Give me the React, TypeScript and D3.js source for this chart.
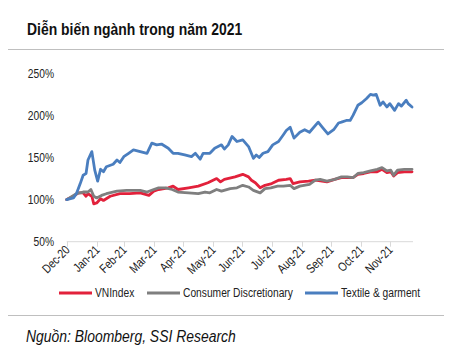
import React from 'react';
import * as d3 from 'd3';

// values (% of 31-Dec-2020 level)
const vnIndex: [string, number][] = [
  ['2020-12-31', 100], ['2021-01-07', 104], ['2021-01-12', 108], ['2021-01-17', 108],
  ['2021-01-20', 104], ['2021-01-22', 107], ['2021-01-26', 104], ['2021-01-28', 95],
  ['2021-01-31', 96], ['2021-02-04', 101], ['2021-02-07', 99], ['2021-02-14', 104],
  ['2021-02-24', 107], ['2021-03-06', 107], ['2021-03-17', 108], ['2021-03-26', 105],
  ['2021-03-31', 110], ['2021-04-05', 112], ['2021-04-15', 114], ['2021-04-20', 116],
  ['2021-04-25', 112], ['2021-05-06', 114], ['2021-05-16', 116], ['2021-05-26', 120],
  ['2021-06-04', 125], ['2021-06-08', 121], ['2021-06-12', 124], ['2021-06-23', 127],
  ['2021-07-01', 130], ['2021-07-07', 127], ['2021-07-10', 123], ['2021-07-14', 120],
  ['2021-07-19', 114], ['2021-07-24', 117], ['2021-07-31', 119], ['2021-08-07', 123],
  ['2021-08-15', 124], ['2021-08-19', 125], ['2021-08-22', 119], ['2021-08-29', 121],
  ['2021-09-07', 122], ['2021-09-14', 123], ['2021-09-26', 121], ['2021-10-04', 124],
  ['2021-10-11', 126], ['2021-10-23', 126], ['2021-10-28', 130], ['2021-11-03', 131],
  ['2021-11-10', 133], ['2021-11-17', 133], ['2021-11-22', 136], ['2021-11-27', 132],
  ['2021-12-01', 133], ['2021-12-04', 128], ['2021-12-08', 132], ['2021-12-15', 133],
  ['2021-12-23', 133],
];

const consumerDisc: [string, number][] = [
  ['2020-12-31', 100], ['2021-01-10', 107], ['2021-01-17', 109], ['2021-01-22', 109],
  ['2021-01-25', 112], ['2021-01-28', 104], ['2021-01-31', 102], ['2021-02-05', 105],
  ['2021-02-10', 107], ['2021-02-21', 110], ['2021-03-03', 111], ['2021-03-17', 111],
  ['2021-03-24', 109], ['2021-03-31', 112], ['2021-04-05', 114], ['2021-04-12', 114],
  ['2021-04-19', 112], ['2021-04-25', 109], ['2021-05-06', 108], ['2021-05-16', 107],
  ['2021-05-23', 109], ['2021-05-28', 108], ['2021-06-04', 112], ['2021-06-09', 110],
  ['2021-06-18', 113], ['2021-06-25', 114], ['2021-07-01', 117], ['2021-07-07', 115],
  ['2021-07-12', 111], ['2021-07-19', 108], ['2021-07-24', 113], ['2021-07-30', 114],
  ['2021-08-06', 116], ['2021-08-12', 116], ['2021-08-19', 117], ['2021-08-23', 113],
  ['2021-08-29', 116], ['2021-09-08', 118], ['2021-09-14', 123], ['2021-09-19', 124],
  ['2021-09-26', 122], ['2021-10-04', 124], ['2021-10-11', 127], ['2021-10-17', 127],
  ['2021-10-23', 126], ['2021-10-28', 131], ['2021-11-03', 132], ['2021-11-10', 134],
  ['2021-11-17', 136], ['2021-11-22', 138], ['2021-11-27', 134], ['2021-12-01', 135],
  ['2021-12-04', 129], ['2021-12-08', 135], ['2021-12-15', 136], ['2021-12-23', 136],
];

const textile: [string, number][] = [
  ['2020-12-31', 100], ['2021-01-07', 102], ['2021-01-10', 107], ['2021-01-14', 119],
  ['2021-01-17', 129], ['2021-01-20', 131], ['2021-01-22', 147], ['2021-01-26', 157],
  ['2021-01-29', 135], ['2021-02-01', 122], ['2021-02-04', 136], ['2021-02-07', 133],
  ['2021-02-10', 139], ['2021-02-17', 142], ['2021-02-21', 147], ['2021-02-24', 144],
  ['2021-02-28', 151], ['2021-03-05', 155], ['2021-03-10', 159], ['2021-03-17', 157],
  ['2021-03-24', 155], ['2021-03-29', 167], ['2021-04-03', 165], ['2021-04-08', 166],
  ['2021-04-15', 161], ['2021-04-20', 155], ['2021-04-25', 155], ['2021-05-02', 153],
  ['2021-05-09', 151], ['2021-05-13', 155], ['2021-05-18', 148], ['2021-05-21', 155],
  ['2021-05-28', 155], ['2021-06-02', 161], ['2021-06-09', 165], ['2021-06-12', 160],
  ['2021-06-16', 165], ['2021-06-20', 175], ['2021-06-25', 169], ['2021-07-01', 171],
  ['2021-07-07', 163], ['2021-07-12', 149], ['2021-07-15', 153], ['2021-07-18', 150],
  ['2021-07-22', 155], ['2021-07-27', 157], ['2021-08-01', 165], ['2021-08-07', 169],
  ['2021-08-12', 177], ['2021-08-15', 182], ['2021-08-19', 186], ['2021-08-23', 173],
  ['2021-08-29', 180], ['2021-09-03', 183], ['2021-09-08', 180], ['2021-09-17', 192],
  ['2021-09-22', 185], ['2021-09-27', 178], ['2021-10-03', 183], ['2021-10-08', 191],
  ['2021-10-11', 192], ['2021-10-16', 194], ['2021-10-20', 194], ['2021-10-23', 200],
  ['2021-10-28', 212], ['2021-11-01', 215], ['2021-11-06', 220], ['2021-11-10', 225],
  ['2021-11-13', 224], ['2021-11-16', 225], ['2021-11-20', 212], ['2021-11-23', 216],
  ['2021-11-27', 210], ['2021-11-30', 214], ['2021-12-05', 206], ['2021-12-09', 214],
  ['2021-12-12', 211], ['2021-12-17', 218], ['2021-12-19', 214], ['2021-12-23', 210],
];

const tickDates = [
  '2020-12-31', '2021-01-31', '2021-02-28', '2021-03-31', '2021-04-30', '2021-05-31',
  '2021-06-30', '2021-07-31', '2021-08-31', '2021-09-30', '2021-10-31', '2021-11-30',
];
const yTicks = [50, 100, 150, 200, 250];

const seriesNames = ['VNIndex', 'Consumer Discretionary', 'Textile & garment'];
const seriesColors = ['#e2213b', '#7f7f7f', '#4a7ebf'];

const font = '"Liberation Sans", Arial, sans-serif';
const narrow = 0.82; // squeeze to look like Arial Narrow

const parse = d3.timeParse('%Y-%m-%d');
const fmt = d3.timeFormat('%b-%y');

// text drawn horizontally squeezed
function NText(props: {
  x: number;
  y: number;
  rotate?: number;
  children: React.ReactNode;
  [k: string]: any;
}) {
  const { x, y, rotate, children, ...rest } = props;
  const rot = rotate ? ` rotate(${rotate})` : '';
  return (
    <text transform={`translate(${x},${y})${rot} scale(${narrow},1)`} {...rest}>
      {children}
    </text>
  );
}

export default function App() {
  const x = d3
    .scaleTime()
    .domain([parse('2020-12-31')!, parse('2021-12-24')!])
    .range([66.7, 413]);
  const y = d3.scaleLinear().domain([50, 250]).range([241.7, 73.3]);

  const line = d3
    .line<[string, number]>()
    .x(d => x(parse(d[0])!))
    .y(d => y(d[1]));

  const allSeries = [vnIndex, consumerDisc, textile];
  const legendX = [59, 147, 305];
  const axisY = y(50);

  return (
    <svg
      width={460}
      height={363}
      style={{ position: 'absolute', left: 0, top: 0, background: '#fff' }}
      fontFamily={font}
    >
      <NText x={27} y={35} fontSize={17} fontWeight="bold" fill="#111">
        Diễn biến ngành trong năm 2021
      </NText>
      <line x1={8} x2={444} y1={49.5} y2={49.5} stroke="#bfbfbf" strokeWidth={1} />

      {yTicks.map(t => (
        <NText key={t} x={54} y={y(t)} dy="0.35em" textAnchor="end" fontSize={12.5} fill="#222">
          {t}%
        </NText>
      ))}

      <line x1={x.range()[0]} x2={x.range()[1]} y1={axisY} y2={axisY} stroke="#d9d9d9" />
      {tickDates.map(s => {
        const tx = Math.round(x(parse(s)!)) + 0.5;
        return (
          <g key={s}>
            <line x1={tx} x2={tx} y1={axisY} y2={axisY + 5} stroke="#d9d9d9" />
            <NText x={tx + 3} y={axisY + 9} rotate={-45} textAnchor="end" fontSize={12.5} fill="#222">
              {fmt(parse(s)!)}
            </NText>
          </g>
        );
      })}

      {allSeries.map((s, i) => (
        <path
          key={seriesNames[i]}
          d={line(s) || ''}
          fill="none"
          stroke={seriesColors[i]}
          strokeWidth={2.8}
          strokeLinejoin="round"
          strokeLinecap="round"
        />
      ))}

      {seriesNames.map((n, i) => (
        <g key={n}>
          <line
            x1={legendX[i]}
            x2={legendX[i] + 33}
            y1={293}
            y2={293}
            stroke={seriesColors[i]}
            strokeWidth={3}
          />
          <NText x={legendX[i] + 36} y={293} dy="0.35em" fontSize={12.5} fill="#222">
            {n}
          </NText>
        </g>
      ))}

      <line x1={8} x2={444} y1={315.5} y2={315.5} stroke="#bfbfbf" strokeWidth={1} />
      <NText x={26} y={342} fontSize={17} fontStyle="italic" fill="#111">
        Nguồn: Bloomberg, SSI Research
      </NText>
    </svg>
  );
}
